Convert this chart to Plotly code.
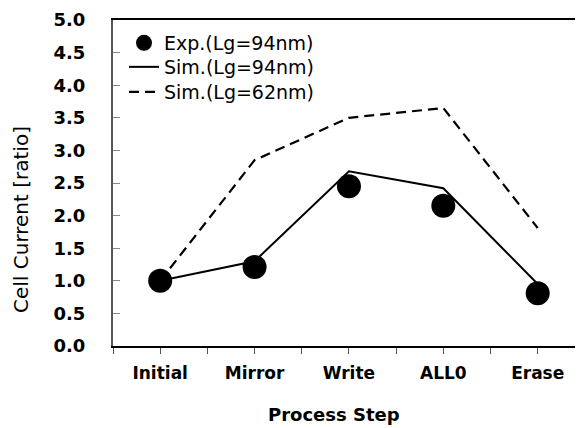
import plotly.graph_objects as go

categories = ["Initial", "Mirror", "Write", "ALL0", "Erase"]
exp_94 = [1.0, 1.21, 2.45, 2.15, 0.81]
sim_94 = [1.0, 1.30, 2.68, 2.42, 0.95]
sim_62 = [1.0, 2.85, 3.50, 3.65, 1.81]
y_ticks = [0.0, 0.5, 1.0, 1.5, 2.0, 2.5, 3.0, 3.5, 4.0, 4.5, 5.0]

xpos = list(range(len(categories)))
tickvals = []
ticktext = []
for i, c in enumerate(categories):
    tickvals += [i - 0.5, i]
    ticktext += ["", c]
tickvals.append(len(categories) - 0.5)
ticktext.append("")

# page body has an 8px margin; figure is sized to fit inside the window
OFF = 8
W, H = 583 - OFF, 428 - OFF
l, r, t, b = 113 - OFF, 0, 20 - OFF, 428 - 346
pw, ph = W - l - r, H - t - b


def px(xs):
    return (xs - OFF - l) / pw


def py(ys):
    return (H - b - (ys - OFF)) / ph


fig = go.Figure()
fig.add_trace(go.Scatter(x=xpos, y=sim_62, mode="lines", name="Sim.(Lg=62nm)",
                         line=dict(color="black", width=2.2, dash="10px,6px"), legend="legend3"))
fig.add_trace(go.Scatter(x=xpos, y=sim_94, mode="lines", name="Sim.(Lg=94nm)",
                         line=dict(color="black", width=2), legend="legend2"))
fig.add_trace(go.Scatter(x=xpos, y=exp_94, mode="markers", name="Exp.(Lg=94nm)",
                         marker=dict(color="black", size=24), legend="legend"))

leg_common = dict(xanchor="left", yanchor="middle",
                  font=dict(size=19, family="DejaVu Sans"),
                  bgcolor="rgba(0,0,0,0)", itemwidth=30)

fig.update_layout(
    width=W, height=H,
    margin=dict(l=l, r=r, t=t, b=b, autoexpand=False),
    plot_bgcolor="white", paper_bgcolor="white",
    font=dict(family="DejaVu Sans", color="black"),
    showlegend=True,
    legend=dict(x=px(124), y=py(43), **leg_common),
    legend2=dict(x=px(124), y=py(67), **leg_common),
    legend3=dict(x=px(124), y=py(92), **leg_common),
    xaxis=dict(range=[-0.5, 4.48], tickvals=tickvals, ticktext=ticktext,
               ticks="outside", ticklen=6, tickcolor="#555",
               showline=True, linecolor="black", linewidth=2, mirror=True,
               showgrid=False, zeroline=False, automargin=False,
               tickfont=dict(size=17, family="DejaVu Sans", weight="bold"),
               ticklabelstandoff=5),
    yaxis=dict(range=[0, 5], tickvals=y_ticks, tickformat=".1f",
               ticks="inside", ticklen=7, tickcolor="#888",
               showline=True, linecolor="#555", linewidth=2,
               showgrid=False, zeroline=False, automargin=False,
               tickfont=dict(size=18, family="DejaVu Sans", weight="bold"),
               ticklabelstandoff=22),
    annotations=[
        dict(text="Cell Current [ratio]", x=px(21), y=py(220),
             xref="paper", yref="paper", xanchor="center", yanchor="middle",
             showarrow=False, textangle=-90, font=dict(size=20)),
        dict(text="<b>Process Step</b>", x=px(334), y=py(415),
             xref="paper", yref="paper", xanchor="center", yanchor="middle",
             showarrow=False, font=dict(size=18)),
    ],
)
fig.write_html("out.html")
